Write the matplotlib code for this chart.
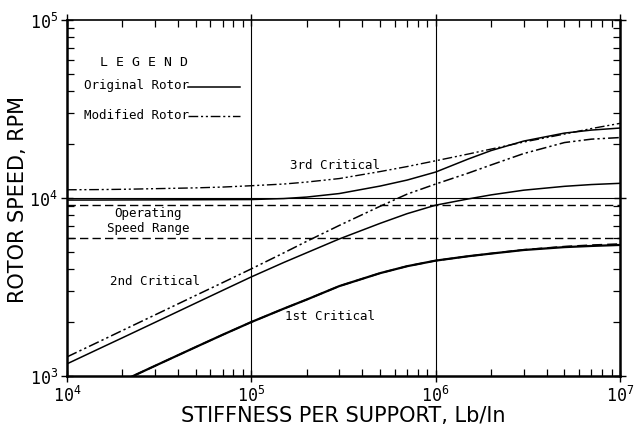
import numpy as np
import matplotlib
matplotlib.use("Agg")
import matplotlib.pyplot as plt
from matplotlib.ticker import LogLocator, NullFormatter

# --- Data ---
stiffness = [1e4, 1.5e4, 2e4, 3e4, 5e4, 7e4, 1e5, 1.5e5, 2e5, 3e5,
             5e5, 7e5, 1e6, 1.5e6, 2e6, 3e6, 5e6, 7e6, 1e7]

first_original = [673, 817, 938, 1140, 1455, 1706, 2010, 2390, 2690, 3200,
                  3785, 4140, 4450, 4710, 4875, 5105, 5300, 5380, 5450]
first_modified = [673, 817, 938, 1140, 1455, 1706, 2010, 2390, 2690, 3200,
                  3785, 4140, 4450, 4710, 4880, 5120, 5340, 5440, 5520]
second_original = [1170, 1426, 1640, 2000, 2570, 3030, 3605, 4345, 4930, 5890,
                   7210, 8170, 9120, 9885, 10420, 11070, 11640, 11910, 12100]
second_modified = [1280, 1563, 1803, 2203, 2838, 3350, 4000, 4920, 5715, 7015,
                   8995, 10520, 11990, 13800, 15350, 17780, 20510, 21430, 21880]
third_original = [9745, 9750, 9760, 9770, 9785, 9800, 9810, 9935, 10130, 10600,
                  11680, 12620, 14000, 16560, 18490, 20900, 23180, 24100, 24740]
third_modified = [11130, 11160, 11200, 11290, 11410, 11530, 11730, 11990, 12300, 12870,
                  14090, 15030, 16200, 17670, 18850, 20640, 22890, 24580, 26290]

speed_range = [6000, 9200]

x_ticks = [1e4, 1e5, 1e6, 1e7]
x_tick_labels = [r"$\mathregular{10^{4}}$", r"$\mathregular{10^{5}}$",
                 r"$\mathregular{10^{6}}$", r"$\mathregular{10^{7}}$"]
y_ticks = [1e3, 1e4, 1e5]
y_tick_labels = [r"$\mathregular{10^{3}}$", r"$\mathregular{10^{4}}$", r"$\mathregular{10^{5}}$"]

plt.rcParams['font.family'] = ['DejaVu Sans Mono', 'DejaVu Sans']
plt.rcParams['mathtext.fontset'] = 'custom'
plt.rcParams['mathtext.rm'] = 'DejaVu Sans Mono'

DASHDOT = (0, (7, 2, 1.5, 2, 1.5, 2))
DASHED = (0, (6, 3))

fig = plt.figure(figsize=(6.36, 4.31), dpi=100)
ax = fig.add_axes([0.1053, 0.1253, 0.8695, 0.8257])
ax.set_xscale('log')
ax.set_yscale('log')
ax.set_xlim(1e4, 1e7)
ax.set_ylim(1e3, 1e5)

# grid lines at decades inside the frame
for xv in [1e5, 1e6]:
    ax.axvline(xv, color='black', lw=0.8, zorder=1)
ax.axhline(1e4, color='black', lw=0.8, zorder=1)

# operating speed range
for rpm in speed_range:
    ax.axhline(rpm, color='black', lw=1.0, linestyle=DASHED, zorder=2)

# critical speed curves
ax.plot(stiffness, first_modified, color='black', lw=1.2, linestyle=DASHED, zorder=3)
ax.plot(stiffness, first_original, color='black', lw=1.6, zorder=3)
ax.plot(stiffness, second_original, color='black', lw=1.1, zorder=3)
ax.plot(stiffness, second_modified, color='black', lw=1.1, linestyle=DASHDOT, zorder=3)
ax.plot(stiffness, third_original, color='black', lw=1.1, zorder=3)
ax.plot(stiffness, third_modified, color='black', lw=1.0, linestyle=DASHDOT, zorder=3)

# ticks
ax.set_xticks(x_ticks)
ax.set_xticklabels(x_tick_labels)
ax.set_yticks(y_ticks)
ax.set_yticklabels(y_tick_labels)
ax.xaxis.set_minor_locator(LogLocator(base=10, subs=np.arange(2, 10), numticks=20))
ax.yaxis.set_minor_locator(LogLocator(base=10, subs=np.arange(2, 10), numticks=20))
ax.xaxis.set_minor_formatter(NullFormatter())
ax.yaxis.set_minor_formatter(NullFormatter())
ax.tick_params(which='major', direction='inout', length=9, width=1.0,
               top=True, right=True, labelsize=12, pad=2)
ax.tick_params(which='minor', direction='in', length=5, width=0.9,
               top=True, right=True)

for side in ['left', 'bottom', 'right']:
    ax.spines[side].set_linewidth(1.8)
ax.spines['top'].set_linewidth(1.2)

ax.set_xlabel("STIFFNESS PER SUPPORT, Lb/In", fontsize=15, labelpad=0,
              family='DejaVu Sans', color='black')
ax.set_ylabel("ROTOR SPEED, RPM", fontsize=15, labelpad=1,
              family='DejaVu Sans', color='black')

# legend drawn as text and line samples in axes coordinates
tr = ax.transAxes
ax.text(0.0597, 0.885, "L E G E N D", transform=tr, fontsize=9.5, va='center', ha='left')
ax.text(0.0307, 0.818, "Original Rotor", transform=tr, fontsize=9, va='center', ha='left')
ax.text(0.0307, 0.736, "Modified Rotor", transform=tr, fontsize=9, va='center', ha='left')
ax.plot([0.219, 0.313], [0.812, 0.812], transform=tr, color='black', lw=1.1)
ax.plot([0.219, 0.313], [0.730, 0.730], transform=tr, color='black', lw=1.0, linestyle=DASHDOT)

# curve annotations
ax.text(1.62e5, 1.54e4, "3rd Critical", fontsize=9, ha='left', va='center')
ax.text(2.75e4, 8.3e3, "Operating", fontsize=9, ha='center', va='center')
ax.text(2.75e4, 6.8e3, "Speed Range", fontsize=9, ha='center', va='center')
ax.text(3.0e4, 3.42e3, "2nd Critical", fontsize=9, ha='center', va='center')
ax.text(1.525e5, 2.18e3, "1st Critical", fontsize=9, ha='left', va='center')

fig.savefig("out.png", dpi=100)
